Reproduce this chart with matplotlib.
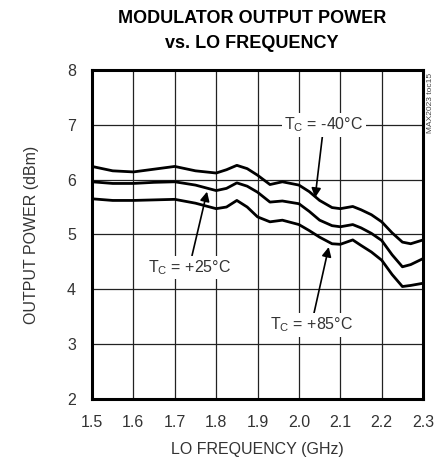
import matplotlib
matplotlib.use("Agg")
import matplotlib.pyplot as plt
import numpy as np

# LO frequency (GHz) and output power (dBm)
freq = [1.50, 1.55, 1.60, 1.65, 1.70, 1.75, 1.80, 1.825, 1.85, 1.875, 1.90,
        1.93, 1.96, 2.00, 2.025, 2.05, 2.08, 2.10, 2.13, 2.15, 2.175, 2.20,
        2.225, 2.25, 2.27, 2.30]
p_m40 = [6.24, 6.16, 6.14, 6.19, 6.24, 6.16, 6.12, 6.18, 6.26, 6.20, 6.08,
         5.91, 5.96, 5.90, 5.78, 5.62, 5.49, 5.47, 5.51, 5.45, 5.36, 5.23,
         5.03, 4.86, 4.83, 4.90]
p_25 = [5.96, 5.93, 5.93, 5.95, 5.96, 5.90, 5.80, 5.84, 5.94, 5.88, 5.77,
        5.59, 5.61, 5.56, 5.42, 5.26, 5.16, 5.14, 5.18, 5.12, 5.02, 4.89,
        4.63, 4.41, 4.45, 4.56]
p_85 = [5.65, 5.62, 5.62, 5.63, 5.64, 5.57, 5.47, 5.50, 5.62, 5.50, 5.32,
        5.23, 5.26, 5.18, 5.07, 4.95, 4.83, 4.82, 4.90, 4.80, 4.68, 4.53,
        4.27, 4.05, 4.07, 4.11]

xticks = [1.5, 1.6, 1.7, 1.8, 1.9, 2.0, 2.1, 2.2, 2.3]
yticks = [2, 3, 4, 5, 6, 7, 8]

narrow = ["Liberation Sans Narrow", "Liberation Sans", "DejaVu Sans"]
plt.rcParams["mathtext.fontset"] = "custom"
plt.rcParams["mathtext.rm"] = "Liberation Sans"

fig = plt.figure(figsize=(4.38, 4.57), dpi=100)
ax = fig.add_axes([0.210, 0.127, 0.756, 0.720])

for p in (p_m40, p_25, p_85):
    ax.plot(freq, p, color="black", lw=2.0, solid_capstyle="round",
            solid_joinstyle="round", zorder=3)

ax.set_xlim(1.5, 2.3)
ax.set_ylim(2, 8)
ax.set_xticks(xticks)
ax.set_xticklabels([f"{v:.1f}" for v in xticks], family=narrow, fontsize=11.5)
ax.set_yticks(yticks)
ax.set_yticklabels([str(v) for v in yticks], family=narrow, fontsize=11.5)
ax.tick_params(length=0, pad=11.5, colors="#333333")
ax.grid(True, color="#222222", lw=0.9)
ax.set_axisbelow(True)
for s in ax.spines.values():
    s.set_linewidth(2.2)

ax.set_xlabel("LO FREQUENCY (GHz)", family=narrow, fontsize=11.5,
              color="#333333", labelpad=8.5)
ax.set_ylabel("OUTPUT POWER (dBm)", family=narrow, fontsize=11.5,
              color="#333333", labelpad=20)
fig.text(0.575, 0.9595, "MODULATOR OUTPUT POWER", ha="center", va="center",
         family=narrow, fontweight="bold", fontsize=13)
fig.text(0.575, 0.9048, "vs. LO FREQUENCY", ha="center", va="center",
         family=narrow, fontweight="bold", fontsize=13)

box = dict(boxstyle="square,pad=0.15", fc="white", ec="none")
arr = dict(arrowstyle="-|>", color="black", lw=1.2, mutation_scale=14,
           shrinkA=0, shrinkB=0)
ax.annotate("T$_\\mathregular{C}$ = -40°C", xy=(2.039, 5.67), xytext=(2.06, 7.0),
            ha="center", va="center", family=narrow, fontsize=11.5,
            color="#333333", bbox=box, arrowprops=arr, zorder=4)
ax.annotate("T$_\\mathregular{C}$ = +25°C", xy=(1.778, 5.78), xytext=(1.735, 4.4),
            ha="center", va="center", family=narrow, fontsize=11.5,
            color="#333333", bbox=box, arrowprops=arr, zorder=4)
ax.annotate("T$_\\mathregular{C}$ = +85°C", xy=(2.072, 4.77), xytext=(2.03, 3.35),
            ha="center", va="center", family=narrow, fontsize=11.5,
            color="#333333", bbox=box, arrowprops=arr, zorder=4)

fig.text(0.982, 0.84, "MAX2023 toc15", rotation=90, ha="center", va="top",
         family=narrow, fontsize=6, color="#444444")

fig.savefig("out.png", dpi=100)
